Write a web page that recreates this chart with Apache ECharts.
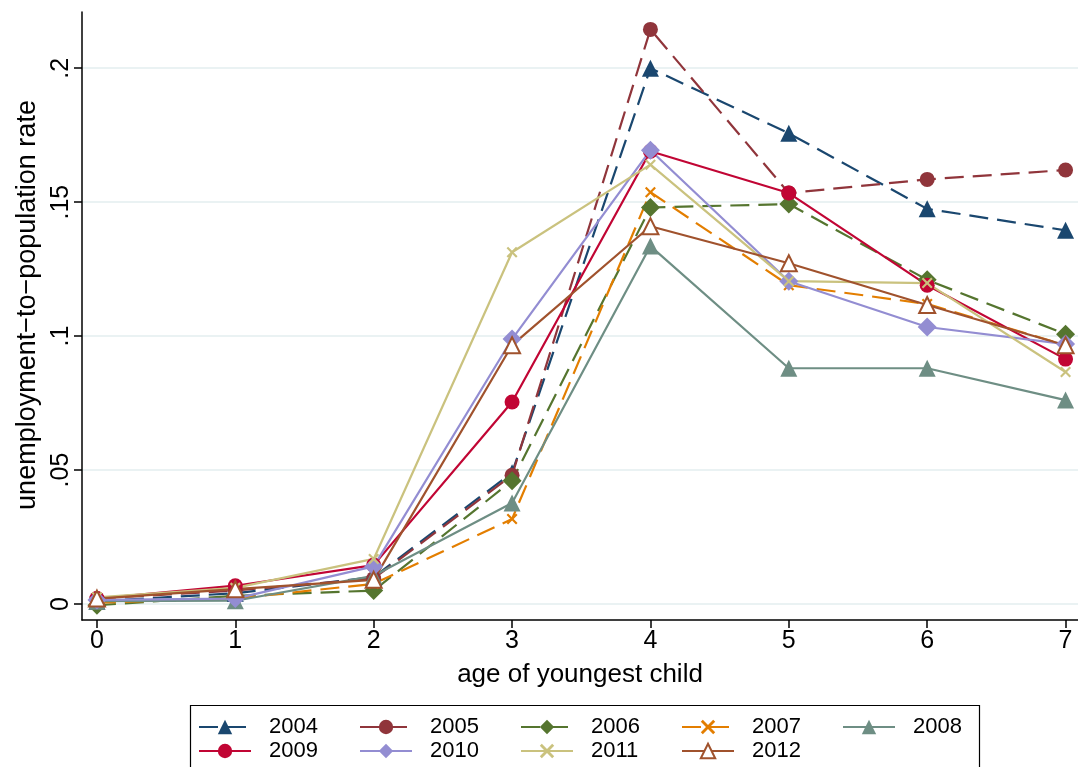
<!DOCTYPE html>
<html>
<head>
<meta charset="utf-8">
<script src="https://cdn.jsdelivr.net/npm/echarts@6/dist/echarts.min.js"></script>
<style>html,body{margin:0;padding:0;background:#fff}#c{width:1078px;height:767px}</style>
</head>
<body>
<div id="c"></div>
<script>
const ages = [0, 1, 2, 3, 4, 5, 6, 7];
const years = ['2004','2005','2006','2007','2008','2009','2010','2011','2012'];
const y2004 = [0.001, 0.004, 0.010, 0.049, 0.200, 0.1757, 0.1475, 0.1395];
const y2005 = [0.002, 0.005, 0.0095, 0.048, 0.2145, 0.1534, 0.1585, 0.1620];
const y2006 = [-0.0005, 0.003, 0.005, 0.046, 0.148, 0.1493, 0.121, 0.1007];
const y2007 = [0.0005, 0.002, 0.0075, 0.0317, 0.1537, 0.119, 0.112, 0.0966];
const y2008 = [0.001, 0.0012, 0.0105, 0.0377, 0.1336, 0.088, 0.088, 0.0761];
const y2009 = [0.002, 0.0068, 0.0145, 0.0754, 0.169, 0.1534, 0.119, 0.0914];
const y2010 = [0.0015, 0.002, 0.014, 0.0989, 0.1694, 0.1205, 0.1034, 0.097];
const y2011 = [0.0025, 0.006, 0.0168, 0.1313, 0.164, 0.1205, 0.1198, 0.0866];
const y2012 = [0.002, 0.0055, 0.009, 0.0966, 0.141, 0.1272, 0.1116, 0.0966];
const xTickValues = [0, 1, 2, 3, 4, 5, 6, 7];
const yTickValues = [0, 0.05, 0.1, 0.15, 0.2];
const yTickLabels = ['0', '.05', '.1', '.15', '.2'];

const seriesValues = [y2004, y2005, y2006, y2007, y2008, y2009, y2010, y2011, y2012];
const colors = ['#1a476f','#90353b','#55752f','#e37e00','#6e8e84','#c10534','#938dd2','#cac27e','#a0522d'];
const dashed = [true, true, true, true, false, false, false, false, false];
const xPath = 'path://M0,1.4L1.4,0L5,3.6L8.6,0L10,1.4L6.4,5L10,8.6L8.6,10L5,6.4L1.4,10L0,8.6L3.6,5Z';
const symbols = ['triangle','circle','diamond', xPath,'triangle','circle','diamond', xPath,'emptyTriangle'];
const sizes = [17, 15, 19, 11, 17, 15, 19, 11, 16];
const FONT = 'Liberation Sans, Arial, sans-serif';

const series = years.map((y, i) => ({
  name: y,
  type: 'line',
  data: ages.map((a, j) => [a, seriesValues[i][j]]),
  symbol: symbols[i],
  symbolSize: sizes[i],
  showAllSymbol: true,
  color: colors[i],
  lineStyle: { width: 2.2, color: colors[i], type: dashed[i] ? [19, 9] : 'solid' },
  itemStyle: symbols[i] === 'emptyTriangle' ? { color: colors[i], borderColor: colors[i], borderWidth: 2 } : { color: colors[i] },
  emphasis: { disabled: true },
  animation: false
}));

const chart = echarts.init(document.getElementById('c'), null, { renderer: 'canvas' });
chart.setOption({
  backgroundColor: '#ffffff',
  animation: false,
  grid: { left: 82, right: 0, top: 12, bottom: 147 },
  xAxis: {
    type: 'value', min: -0.108, max: 7.09,
    name: 'age of youngest child', nameLocation: 'middle', nameGap: 42,
    nameTextStyle: { fontFamily: FONT, fontSize: 26, color: '#000' },
    axisLine: { show: true, onZero: false, lineStyle: { color: '#000', width: 1.5 } },
    axisTick: { show: true, length: 8, customValues: xTickValues, lineStyle: { color: '#000', width: 1.5 } },
    axisLabel: { customValues: xTickValues, fontFamily: FONT, fontSize: 25, color: '#000', margin: 9 },
    splitLine: { show: false }
  },
  yAxis: {
    type: 'value', min: -0.006, max: 0.221,
    name: 'unemployment\u2212to\u2212population rate', nameLocation: 'middle', nameGap: 40,
    nameTextStyle: { fontFamily: FONT, fontSize: 27, color: '#000', padding: [0, 0, 0, 22] },
    axisLine: { show: true, onZero: false, lineStyle: { color: '#000', width: 1.5 } },
    axisTick: { show: true, length: 8, customValues: yTickValues, lineStyle: { color: '#000', width: 1.5 } },
    axisLabel: {
      customValues: yTickValues, rotate: 90, fontFamily: FONT, fontSize: 25, color: '#000', margin: 8,
      formatter: v => { const k = yTickValues.findIndex(t => Math.abs(t - v) < 1e-9); return k >= 0 ? yTickLabels[k] : ''; }
    },
    splitLine: { show: true, lineStyle: { color: '#eaf2f3', width: 2 } }
  },
  legend: {
    data: years,
    left: 198, top: 716, width: 840,
    orient: 'horizontal',
    itemWidth: 52, itemHeight: 18, itemGap: 2,
    textStyle: { fontFamily: FONT, fontSize: 22, color: '#000', width: 88, padding: [0, 0, 0, 13], lineHeight: 21 },
    padding: 0,
    selectedMode: false
  },
  graphic: [{
    type: 'rect', left: 188, top: 703, silent: true,
    shape: { width: 789, height: 80 },
    style: { fill: 'none', stroke: '#000', lineWidth: 1.2 },
    z: -1
  }],
  series: series
});
</script>
</body>
</html>
